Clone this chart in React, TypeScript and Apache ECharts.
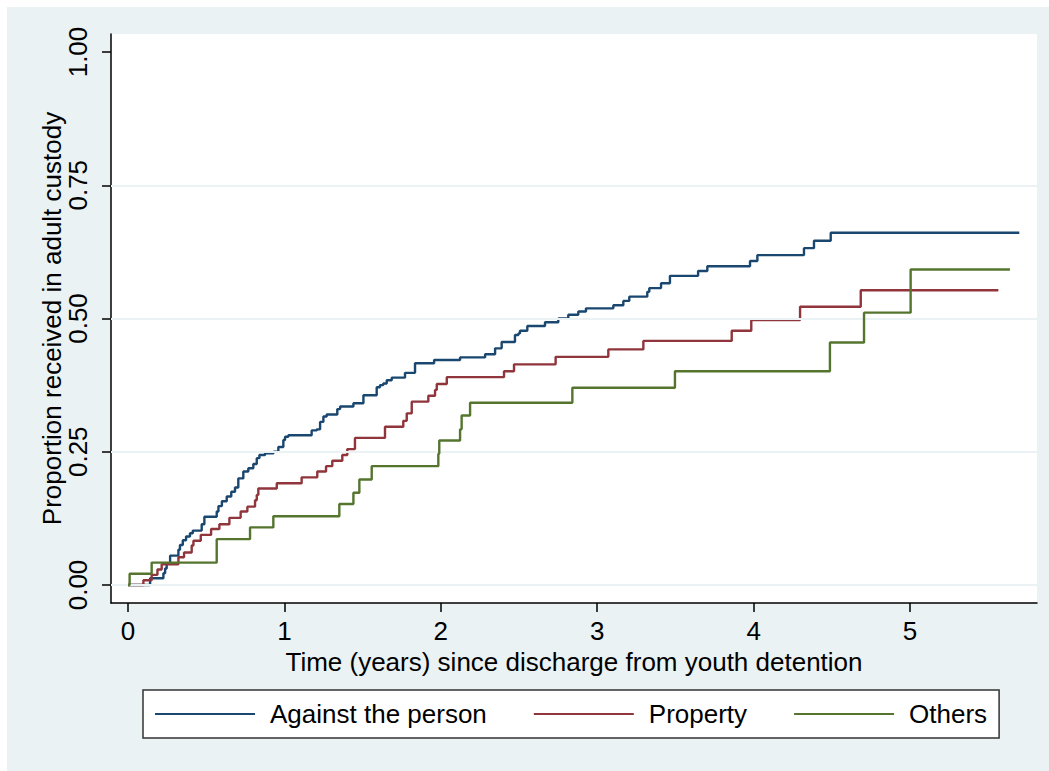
import React, { useEffect, useRef } from "react";
import * as echarts from "echarts";

const seriesNames = ["Against the person", "Property", "Others"];
const seriesColors = ["#1A476F", "#90353B", "#55752F"];

const personT = [0, 0.141, 0.226, 0.237, 0.247, 0.269, 0.322, 0.332, 0.35, 0.371, 0.396, 0.414, 0.471, 0.488, 0.567, 0.578, 0.6, 0.631, 0.66, 0.684, 0.705, 0.737, 0.769, 0.801, 0.823, 0.84, 0.876, 0.93, 0.961, 0.993, 1.004, 1.025, 1.174, 1.207, 1.228, 1.249, 1.27, 1.338, 1.356, 1.441, 1.505, 1.59, 1.611, 1.632, 1.654, 1.686, 1.771, 1.835, 1.957, 2.123, 2.283, 2.347, 2.389, 2.474, 2.496, 2.506, 2.553, 2.666, 2.751, 2.815, 2.879, 2.928, 3.103, 3.167, 3.205, 3.32, 3.333, 3.408, 3.465, 3.645, 3.704, 3.977, 4.024, 4.322, 4.386, 4.493, 5.699];
const personV = [0, 0.0125, 0.022, 0.031, 0.041, 0.055, 0.066, 0.075, 0.084, 0.091, 0.097, 0.102, 0.114, 0.128, 0.138, 0.148, 0.157, 0.166, 0.175, 0.183, 0.2, 0.213, 0.219, 0.227, 0.238, 0.244, 0.247, 0.25, 0.259, 0.272, 0.278, 0.281, 0.29, 0.292, 0.306, 0.316, 0.32, 0.33, 0.335, 0.341, 0.356, 0.371, 0.375, 0.378, 0.384, 0.389, 0.398, 0.416, 0.422, 0.427, 0.433, 0.444, 0.456, 0.469, 0.472, 0.477, 0.486, 0.493, 0.5, 0.507, 0.513, 0.519, 0.525, 0.533, 0.541, 0.55, 0.557, 0.566, 0.58, 0.589, 0.598, 0.608, 0.619, 0.632, 0.646, 0.661, 0.661];

const propertyT = [0, 0.098, 0.151, 0.188, 0.215, 0.322, 0.358, 0.407, 0.418, 0.465, 0.531, 0.584, 0.648, 0.72, 0.763, 0.812, 0.823, 0.833, 0.951, 1.11, 1.21, 1.266, 1.306, 1.37, 1.402, 1.451, 1.643, 1.76, 1.782, 1.814, 1.92, 1.963, 1.974, 2.038, 2.404, 2.468, 2.734, 3.071, 3.295, 3.86, 3.985, 4.297, 4.685, 5.565];
const propertyV = [0, 0.009, 0.019, 0.029, 0.039, 0.052, 0.061, 0.074, 0.083, 0.094, 0.105, 0.114, 0.126, 0.138, 0.147, 0.159, 0.169, 0.181, 0.191, 0.202, 0.213, 0.223, 0.233, 0.244, 0.255, 0.276, 0.297, 0.308, 0.322, 0.344, 0.355, 0.366, 0.377, 0.39, 0.401, 0.414, 0.428, 0.442, 0.458, 0.477, 0.497, 0.522, 0.553, 0.553];

const othersT = [0, 0.01, 0.151, 0.567, 0.78, 0.929, 1.351, 1.441, 1.479, 1.558, 1.984, 1.99, 2.123, 2.133, 2.187, 2.841, 3.497, 4.488, 4.706, 5.004, 5.639];
const othersV = [0, 0.021, 0.042, 0.086, 0.108, 0.129, 0.152, 0.173, 0.198, 0.223, 0.246, 0.271, 0.292, 0.318, 0.342, 0.37, 0.401, 0.455, 0.511, 0.592, 0.592];

const xTicks = [0, 1, 2, 3, 4, 5];
const yTicks = [0, 0.25, 0.5, 0.75, 1];
const yGridLines = [0, 0.25, 0.5, 0.75];

const FONT = "'Liberation Sans', Arial, sans-serif";

function zip(t: number[], v: number[]) {
  return t.map((x, i) => [x, v[i]]);
}

export default function App() {
  const ref = useRef<HTMLDivElement>(null);
  useEffect(() => {
    if (!ref.current) return;
    const chart = echarts.init(ref.current, undefined, { renderer: "svg" });
    const datasets = [zip(personT, personV), zip(propertyT, propertyV), zip(othersT, othersV)];
    chart.setOption({
      animation: false,
      backgroundColor: "transparent",
      textStyle: { fontFamily: FONT },
      grid: {
        left: 111,
        top: 34,
        width: 926,
        height: 569,
        show: true,
        backgroundColor: "#ffffff",
        borderWidth: 0,
      },
      legend: {
        data: seriesNames.map((name) => ({ name, icon: "rect" })),
        left: 143,
        top: 690,
        width: 862,
        padding: [11, 12, 11, 12],
        itemGap: 47,
        itemWidth: 100,
        itemHeight: 2,
        backgroundColor: "#ffffff",
        borderColor: "#333333",
        borderWidth: 1.5,
        borderRadius: 0,
        textStyle: { fontSize: 26, color: "#000", fontFamily: FONT, padding: [0, 0, 0, 10] },
      },
      xAxis: {
        type: "value",
        min: -0.109,
        max: 5.812,
        name: "Time (years) since discharge from youth detention",
        nameLocation: "middle",
        nameGap: 44,
        nameTextStyle: { fontSize: 26, color: "#000", fontFamily: FONT },
        axisLine: { show: true, onZero: false, lineStyle: { color: "#000", width: 1.5 } },
        axisTick: { show: true, length: 9, customValues: xTicks, lineStyle: { color: "#000", width: 1.5 } },
        axisLabel: { customValues: xTicks, fontSize: 26, color: "#000", margin: 15, fontFamily: FONT },
        splitLine: { show: false },
      },
      yAxis: {
        type: "value",
        min: -0.0338,
        max: 1.0338,
        name: "Proportion received in adult custody",
        nameLocation: "middle",
        nameRotate: 90,
        nameGap: 46,
        nameMoveOverlap: false,
        nameTextStyle: { fontSize: 26, color: "#000", fontFamily: FONT },
        axisLine: { show: true, onZero: false, lineStyle: { color: "#000", width: 1.5 } },
        axisTick: { show: true, length: 9, customValues: yTicks, lineStyle: { color: "#000", width: 1.5 } },
        axisLabel: {
          customValues: yTicks,
          rotate: 90,
          fontSize: 26,
          color: "#000",
          margin: 20,
          fontFamily: FONT,
          formatter: (v: number) => v.toFixed(2),
        },
        splitLine: { show: false },
      },
      series: [
        {
          type: "line",
          name: "__grid",
          data: [],
          z: 1,
          silent: true,
          markLine: {
            silent: true,
            symbol: "none",
            label: { show: false },
            lineStyle: { color: "#EAF2F3", width: 2, type: "solid" },
            data: yGridLines.map((y) => ({ yAxis: y })),
          },
        },
        ...seriesNames.map((name, i) => ({
          type: "line",
          name,
          data: datasets[i],
          step: "end",
          symbol: "none",
          showSymbol: false,
          z: 3 + i,
          color: seriesColors[i],
          itemStyle: { color: seriesColors[i] },
          lineStyle: { color: seriesColors[i], width: 2.4 },
        })),
      ],
    });
    return () => chart.dispose();
  }, []);
  return (
    <div style={{ position: "fixed", left: 0, top: 0, width: 1049, height: 771, background: "#ffffff" }}>
      <div style={{ position: "absolute", left: 7, top: 7, right: 0, bottom: 0, background: "#EAF2F3" }} />
      <div ref={ref} style={{ position: "absolute", left: 0, top: 0, width: 1049, height: 771 }} />
    </div>
  );
}
